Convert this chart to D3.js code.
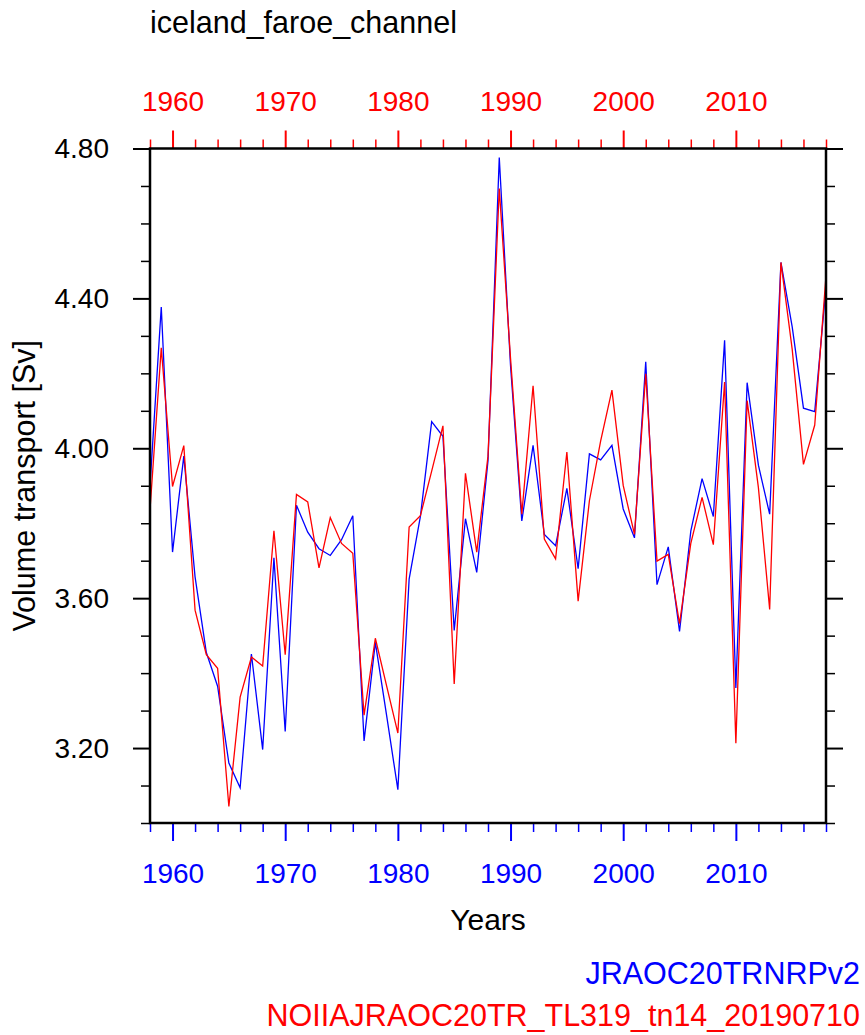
<!DOCTYPE html>
<html><head><meta charset="utf-8">
<script src="https://cdn.jsdelivr.net/npm/d3@7"></script>
<style>
html,body{margin:0;padding:0;background:#fff;}
svg text{font-family:"Liberation Sans",Arial,Helvetica,sans-serif;}
</style></head>
<body><svg id="c" width="865" height="1035"></svg>
<script>
const title = "iceland_faroe_channel";
const yLabel = "Volume transport [Sv]";
const xLabel = "Years";
const seriesNames = ["JRAOC20TRNRPv2", "NOIIAJRAOC20TR_TL319_tn14_20190710"];
const seriesColors = ["#0000ff", "#ff0000"];
const years = [1958,1959,1960,1961,1962,1963,1964,1965,1966,1967,1968,1969,1970,1971,1972,1973,1974,1975,1976,1977,1978,1979,1980,1981,1982,1983,1984,1985,1986,1987,1988,1989,1990,1991,1992,1993,1994,1995,1996,1997,1998,1999,2000,2001,2002,2003,2004,2005,2006,2007,2008,2009,2010,2011,2012,2013,2014,2015,2016,2017,2018];
const blueValues = [3.90,4.377,3.723,3.979,3.657,3.455,3.365,3.160,3.094,3.451,3.196,3.708,3.244,3.848,3.776,3.732,3.714,3.756,3.820,3.219,3.482,3.287,3.089,3.651,3.818,4.071,4.032,3.514,3.812,3.669,3.967,4.776,4.22,3.806,4.008,3.770,3.740,3.893,3.679,3.985,3.969,4.008,3.838,3.761,4.231,3.636,3.737,3.511,3.779,3.919,3.818,4.288,3.360,4.175,3.955,3.824,4.496,4.324,4.107,4.098,4.43];
const redValues = [3.836,4.268,3.898,4.007,3.568,3.449,3.413,3.044,3.336,3.443,3.419,3.780,3.449,3.877,3.857,3.681,3.815,3.746,3.720,3.288,3.493,3.366,3.240,3.790,3.820,3.939,4.060,3.371,3.933,3.723,3.979,4.693,4.24,3.824,4.167,3.758,3.705,3.990,3.592,3.860,4.02,4.155,3.901,3.770,4.199,3.699,3.717,3.532,3.746,3.869,3.743,4.177,3.213,4.127,3.895,3.570,4.496,4.264,3.957,4.062,4.46];
const xMajorTicks = [1960,1970,1980,1990,2000,2010];
const xMinorTicks = [1958,1962,1964,1966,1968,1972,1974,1976,1978,1982,1984,1986,1988,1992,1994,1996,1998,2002,2004,2006,2008,2012,2014,2016,2018];
const yMajorTicks = [3.2,3.6,4.0,4.4,4.8];
const yMinorTicks = [3.0,3.1,3.3,3.4,3.5,3.7,3.8,3.9,4.1,4.2,4.3,4.5,4.6,4.7];
const xDomain = [1958, 2018];
const yDomain = [3.0, 4.8];

const L = 150, R = 826, T = 148.5, B = 823;
const svg = d3.select("#c");
const x = d3.scaleLinear().domain(xDomain).range([L, R]);
const y = d3.scaleLinear().domain(yDomain).range([B, T]);

function styleAxis(g, color, fs, major) {
  g.select(".domain").remove();
  g.selectAll(".tick line").attr("stroke", color).attr("stroke-width", major ? 2 : 1.5);
  g.selectAll(".tick text").attr("fill", color).style("font-size", fs + "px");
}

// bottom axis (blue)
svg.append("g").attr("transform", `translate(0,${B})`)
  .call(d3.axisBottom(x).tickValues(xMinorTicks).tickSize(9).tickFormat(""))
  .call(g => styleAxis(g, seriesColors[0], 28, false));
svg.append("g").attr("transform", `translate(0,${B})`)
  .call(d3.axisBottom(x).tickValues(xMajorTicks).tickSize(18).tickPadding(22).tickFormat(d3.format("d")))
  .call(g => styleAxis(g, seriesColors[0], 28, true));
// top axis (red)
svg.append("g").attr("transform", `translate(0,${T})`)
  .call(d3.axisTop(x).tickValues(xMinorTicks).tickSize(9).tickFormat(""))
  .call(g => styleAxis(g, seriesColors[1], 28, false));
svg.append("g").attr("transform", `translate(0,${T})`)
  .call(d3.axisTop(x).tickValues(xMajorTicks).tickSize(18).tickPadding(20).tickFormat(d3.format("d")))
  .call(g => styleAxis(g, seriesColors[1], 28, true));
// left axis
svg.append("g").attr("transform", `translate(${L},0)`)
  .call(d3.axisLeft(y).tickValues(yMinorTicks).tickSize(9).tickFormat(""))
  .call(g => styleAxis(g, "#000", 28, false));
svg.append("g").attr("transform", `translate(${L},0)`)
  .call(d3.axisLeft(y).tickValues(yMajorTicks).tickSize(17).tickPadding(24).tickFormat(d3.format(".2f")))
  .call(g => styleAxis(g, "#000", 28, true));
// right axis
svg.append("g").attr("transform", `translate(${R},0)`)
  .call(d3.axisRight(y).tickValues(yMinorTicks).tickSize(9).tickFormat(""))
  .call(g => styleAxis(g, "#000", 28, false));
svg.append("g").attr("transform", `translate(${R},0)`)
  .call(d3.axisRight(y).tickValues(yMajorTicks).tickSize(17).tickFormat(""))
  .call(g => styleAxis(g, "#000", 28, true));

// data lines
const line = d3.line().x((d, i) => x(years[i])).y(d => y(d));
[blueValues, redValues].forEach((vals, k) => {
  svg.append("path").datum(vals).attr("d", line)
    .attr("fill", "none").attr("stroke", seriesColors[k]).attr("stroke-width", 1.3)
    .attr("stroke-linejoin", "miter");
});

// frame
svg.append("rect").attr("x", L).attr("y", T).attr("width", R - L).attr("height", B - T)
  .attr("fill", "none").attr("stroke", "#000").attr("stroke-width", 2.5);

// titles
svg.append("text").attr("x", 150).attr("y", 33).style("font-size", "30.5px").attr("fill", "#000").text(title);
svg.append("text").attr("transform", `translate(35,${(T + B) / 2}) rotate(-90)`)
  .attr("text-anchor", "middle").style("font-size", "30.5px").attr("fill", "#000").text(yLabel);
svg.append("text").attr("x", (L + R) / 2).attr("y", 930).attr("text-anchor", "middle")
  .style("font-size", "30px").attr("fill", "#000").text(xLabel);
svg.append("text").attr("x", 860).attr("y", 984).attr("text-anchor", "end")
  .style("font-size", "30.5px").attr("fill", seriesColors[0]).text(seriesNames[0]);
svg.append("text").attr("x", 860).attr("y", 1026).attr("text-anchor", "end")
  .style("font-size", "30.5px").attr("fill", seriesColors[1]).text(seriesNames[1]);
</script></body></html>
